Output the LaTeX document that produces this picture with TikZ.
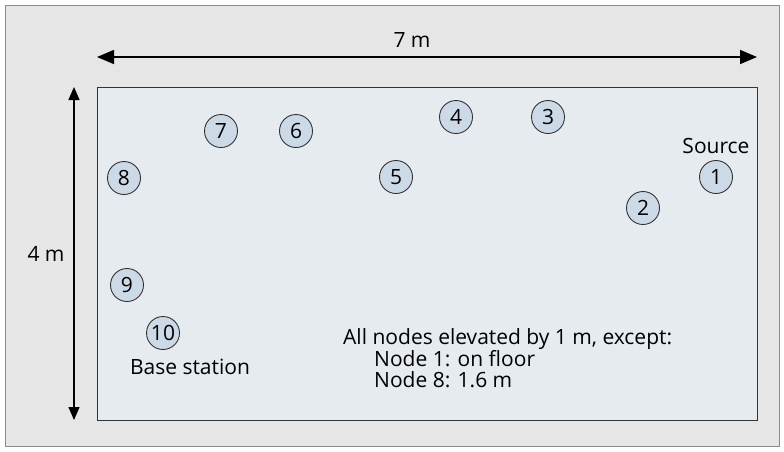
\documentclass[tikz,border=0pt]{standalone}
\usepackage{fontspec}
\setmainfont{Open Sans}
\usetikzlibrary{positioning,arrows.meta}
\definecolor{FrameGray}{HTML}{E6E6E6}
\definecolor{FrameLine}{HTML}{8C8C8C}
\definecolor{RoomFill}{HTML}{E6EBF0}
\definecolor{RoomLine}{HTML}{333333}
\definecolor{NodeFill}{HTML}{CCD9E6}

\begin{document}
\begin{tikzpicture}[
    x=1pt, y=-1pt,
    font=\fontsize{21}{21}\selectfont,
    sensor/.style={circle, draw=RoomLine, fill=NodeFill, line width=0.9pt,
      minimum size=33pt, inner sep=0pt},
    dimarrow/.style={line width=1.6pt, {Triangle[length=17pt,width=14pt]}-{Triangle[length=17pt,width=14pt]}},
    vdimarrow/.style={line width=1.2pt, {Triangle[length=13pt,width=11pt]}-{Triangle[length=13pt,width=11pt]}}
  ]
  % frame and room
  \useasboundingbox (0,0) rectangle (784,451);
  \draw[FrameLine, fill=FrameGray, line width=1pt] (5,5) rectangle (779,446);
  \node[draw=RoomLine, fill=RoomFill, line width=1pt, minimum width=660pt,
    minimum height=333pt, inner sep=0pt] (room) at (427,253.5) {};

  % dimensions
  \coordinate (wl) at (97,57);
  \coordinate (wr) at (757,57);
  \coordinate (ht) at (74,87);
  \coordinate (hb) at (74,420);
  \draw[dimarrow] (wl) -- (wr);
  \draw[vdimarrow] (ht) -- (hb);
  \node (wlabel) at (412,40) {7 m};
  \node (hlabel) at (46,254) {4 m};

  % sensor nodes
  \node[sensor] (n1) at (716,177) {1};
  \node[sensor] (n2) at (643,208) {2};
  \node[sensor] (n3) at (548,117) {3};
  \node[sensor] (n4) at (456,117) {4};
  \node[sensor] (n5) at (396,177) {5};
  \node[sensor] (n6) at (296,131) {6};
  \node[sensor] (n7) at (221,131) {7};
  \node[sensor] (n8) at (124,178) {8};
  \node[sensor] (n9) at (127,285) {9};
  \node[sensor] (n10) at (163,333) {10};
  \node[above=3pt of n1] (source) {Source};
  \node[below=6pt of n10, xshift=27pt] (base) {Base station};

  % note
  \node[align=left, anchor=west, inner sep=0pt] (note) at (343,358)
    {All nodes elevated by 1 m, except:\\
     \hspace*{31pt}Node 1: on floor\\
     \hspace*{31pt}Node 8: 1.6 m};
\end{tikzpicture}
\end{document}
